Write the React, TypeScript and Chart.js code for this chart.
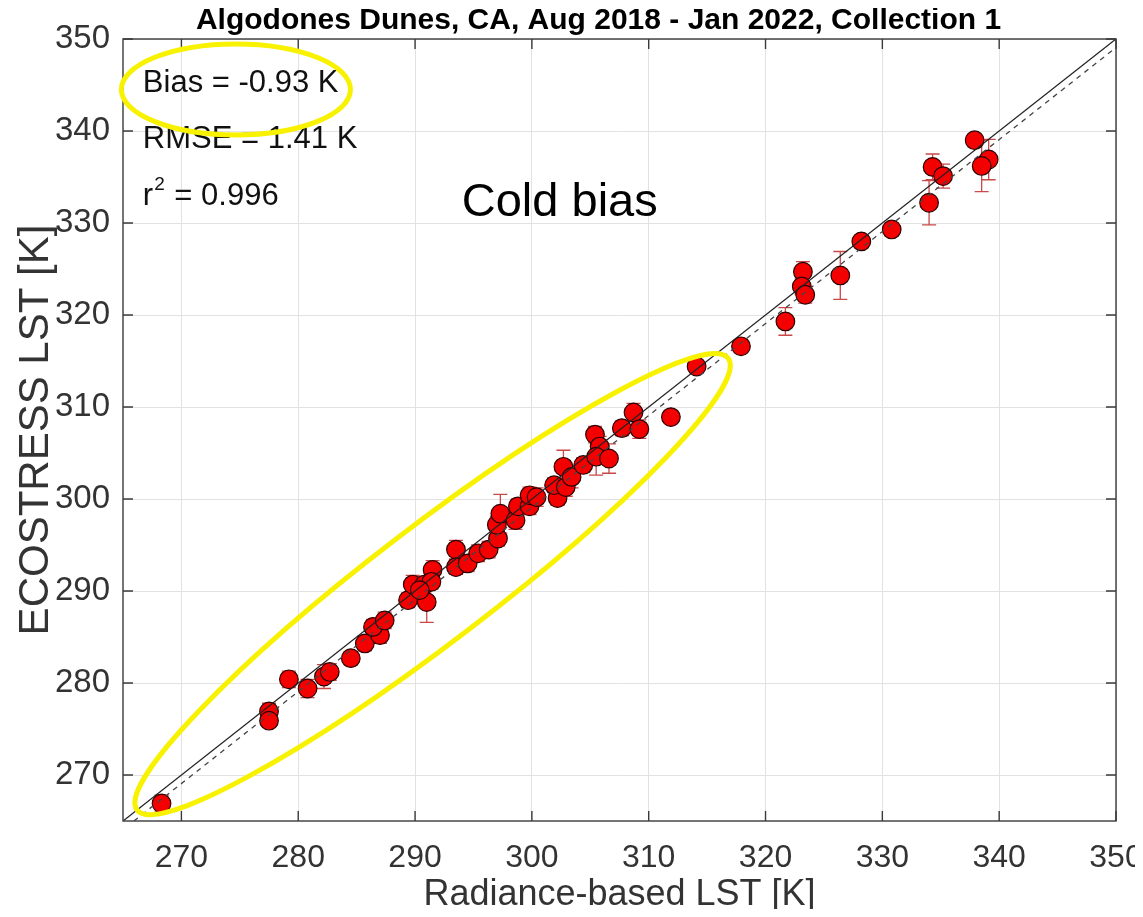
import React, { useEffect, useRef } from "react";
import { Chart, registerables } from "chart.js";

Chart.register(...registerables);

// Matchup data: radiance-based (in situ) LST vs ECOSTRESS LST, with ECOSTRESS uncertainty
const radianceLst = [
  268.3, 277.5, 277.5, 279.2, 280.8, 282.2, 282.7, 284.5, 285.7, 287.0,
  286.4, 287.4, 289.4, 289.8, 290.8, 291.0, 291.5, 291.4, 290.4, 293.5,
  293.5, 294.5, 295.4, 296.3, 297.1, 297.0, 297.3, 298.6, 298.8, 299.8,
  299.8, 300.4, 302.2, 301.9, 302.9, 302.7, 303.4, 304.4, 305.4, 305.8,
  305.5, 306.6, 307.7, 308.7, 309.2, 311.9, 314.1, 317.9, 321.7, 323.2,
  323.1, 323.4, 326.4, 328.2, 330.8, 334.0, 334.3, 335.2, 337.9, 339.1,
  338.5,
];
const ecostressLst = [
  266.9, 276.9, 275.9, 280.4, 279.4, 280.7, 281.2, 282.7, 284.3, 285.2,
  286.1, 286.8, 289.0, 290.7, 290.7, 288.8, 292.3, 291.0, 290.1, 294.5,
  292.6, 293.0, 294.1, 294.5, 295.7, 297.2, 298.4, 297.7, 299.2, 299.2,
  300.4, 300.2, 300.1, 301.5, 301.3, 303.5, 302.4, 303.7, 307.0, 305.7,
  304.6, 304.4, 307.7, 309.4, 307.6, 308.9, 314.4, 316.6, 319.3, 324.7,
  323.1, 322.2, 324.3, 328.0, 329.3, 332.2, 336.1, 335.1, 339.0, 336.9,
  336.2,
];
const ecostressErr = [
  0.9, 0.9, 0.6, 0.9, 1.0, 1.3, 0.9, 0.7, 0.8, 0.9,
  0.8, 0.9, 0.8, 1.0, 0.9, 2.2, 1.0, 0.8, 0.8, 1.0,
  0.8, 0.9, 0.9, 0.9, 0.8, 0.9, 2.1, 1.0, 0.8, 0.9,
  0.9, 1.0, 0.8, 0.8, 1.0, 1.8, 1.2, 0.8, 0.9, 1.1,
  2.0, 1.6, 0.8, 1.0, 1.0, 0.5, 0.4, 0.4, 1.5, 1.1,
  0.9, 0.9, 2.6, 0.6, 0.7, 2.4, 1.4, 1.3, 0.5, 2.2,
  2.8,
];

// Axis limits and tick spacing (both axes share them)
const axisMin = 265;
const axisMax = 350;
const tickStep = 10;

// Fitted line: y = fitSlope * x + fitIntercept
const fitSlope = 1.0;
const fitIntercept = -0.93;

// Text
const titleText = "Algodones Dunes, CA, Aug 2018 - Jan 2022, Collection 1";
const xTitle = "Radiance-based LST [K]";
const yTitle = "ECOSTRESS LST [K]";
const biasText = "Bias = -0.93 K";
const rmseText = "RMSE = 1.41 K";
const r2Value = " = 0.996";
const noteText = "Cold bias";

const sansFont = "'Liberation Sans', Arial, Helvetica, sans-serif";

const canvasWidth = 1135;
const canvasHeight = 901;

const errorBarPlugin = {
  id: "errorBars",
  beforeDatasetsDraw(chart: any) {
    const { ctx } = chart;
    const xs = chart.scales.x;
    const ys = chart.scales.y;
    ctx.save();
    ctx.strokeStyle = "#c94848";
    ctx.lineWidth = 1.3;
    const cap = 7;
    radianceLst.forEach((rx, i) => {
      const px = xs.getPixelForValue(rx);
      const top = ys.getPixelForValue(ecostressLst[i] + ecostressErr[i]);
      const bot = ys.getPixelForValue(ecostressLst[i] - ecostressErr[i]);
      ctx.beginPath();
      ctx.moveTo(px, top);
      ctx.lineTo(px, bot);
      ctx.moveTo(px - cap, top);
      ctx.lineTo(px + cap, top);
      ctx.moveTo(px - cap, bot);
      ctx.lineTo(px + cap, bot);
      ctx.stroke();
    });
    ctx.restore();
  },
};

// Box around the axes with inward tick marks on all four sides
const framePlugin = {
  id: "frame",
  afterDatasetsDraw(chart: any) {
    const { ctx, chartArea: a } = chart;
    const xs = chart.scales.x;
    const ys = chart.scales.y;
    const len = 10;
    ctx.save();
    ctx.strokeStyle = "#3a3a3a";
    ctx.lineWidth = 1.4;
    ctx.strokeRect(a.left, a.top, a.right - a.left, a.bottom - a.top);
    ctx.beginPath();
    xs.ticks.forEach((t: any) => {
      const px = xs.getPixelForValue(t.value);
      ctx.moveTo(px, a.bottom);
      ctx.lineTo(px, a.bottom - len);
      ctx.moveTo(px, a.top);
      ctx.lineTo(px, a.top + len);
    });
    ys.ticks.forEach((t: any) => {
      const py = ys.getPixelForValue(t.value);
      ctx.moveTo(a.left, py);
      ctx.lineTo(a.left + len, py);
      ctx.moveTo(a.right, py);
      ctx.lineTo(a.right - len, py);
    });
    ctx.stroke();
    ctx.restore();
  },
};

// Title, statistics, note and highlight ellipses
const annotationPlugin = {
  id: "notes",
  afterDraw(chart: any) {
    const { ctx, chartArea: a } = chart;
    const xs = chart.scales.x;
    const ys = chart.scales.y;
    const X = (v: number) => xs.getPixelForValue(v);
    const Y = (v: number) => ys.getPixelForValue(v);
    ctx.save();

    // title
    ctx.fillStyle = "#000";
    ctx.font = `bold 30px ${sansFont}`;
    ctx.textAlign = "center";
    ctx.textBaseline = "alphabetic";
    ctx.fillText(titleText, (a.left + a.right) / 2 - 21, a.top - 10);

    // statistics
    ctx.textAlign = "left";
    ctx.font = `31px ${sansFont}`;
    ctx.fillStyle = "#111";
    ctx.fillText(biasText, X(266.7), Y(344.2));
    ctx.fillText(rmseText, X(266.7), Y(338.2));
    const rx = X(266.7);
    const ry = Y(332.0);
    ctx.fillText("r", rx, ry);
    const rw = ctx.measureText("r").width;
    ctx.font = `19px ${sansFont}`;
    ctx.fillText("2", rx + rw + 1, ry - 15);
    const sw = ctx.measureText("2").width;
    ctx.font = `31px ${sansFont}`;
    ctx.fillText(r2Value, rx + rw + sw + 2, ry);

    // note
    ctx.font = `47px ${sansFont}`;
    ctx.fillStyle = "#000";
    ctx.fillText(noteText, X(294.0), Y(330.8));

    // highlight ellipses
    ctx.strokeStyle = "#f8f200";
    ctx.lineWidth = 5;
    // around the bias value: bounds given in data units
    const l = X(264.86), r = X(284.47), t = Y(349.46), b = Y(339.57);
    ctx.beginPath();
    ctx.ellipse((l + r) / 2, (t + b) / 2, (r - l) / 2, (b - t) / 2, 0, 0, Math.PI * 2);
    ctx.stroke();
    // along the 1:1 line: major-axis ends in data units, half-width in pixels
    const x1 = X(266.2), y1 = Y(266.2), x2 = X(316.8), y2 = Y(315.3);
    const cx = (x1 + x2) / 2, cy = (y1 + y2) / 2;
    const semiMajor = Math.hypot(x2 - x1, y2 - y1) / 2;
    const angle = Math.atan2(y2 - y1, x2 - x1);
    ctx.beginPath();
    ctx.ellipse(cx, cy, semiMajor, 58, angle, 0, Math.PI * 2);
    ctx.stroke();

    ctx.restore();
  },
};

export default function App() {
  const canvasRef = useRef<HTMLCanvasElement | null>(null);

  useEffect(() => {
    if (!canvasRef.current) return;
    const points = radianceLst.map((x, i) => ({ x, y: ecostressLst[i] }));
    const oneToOne = [
      { x: axisMin, y: axisMin },
      { x: axisMax, y: axisMax },
    ];
    const fitLine = [
      { x: (axisMin - fitIntercept) / fitSlope, y: axisMin },
      { x: axisMax, y: fitSlope * axisMax + fitIntercept },
    ];

    const chart = new Chart(canvasRef.current, {
      type: "scatter",
      data: {
        datasets: [
          {
            label: "matchups",
            data: points,
            pointRadius: 9.3,
            pointBackgroundColor: "#f50000",
            pointBorderColor: "#2a0000",
            pointBorderWidth: 1.2,
            order: 2,
          },
          {
            label: "1:1",
            data: oneToOne,
            showLine: true,
            borderColor: "#222",
            borderWidth: 1.3,
            pointRadius: 0,
            order: 1,
          },
          {
            label: "fit",
            data: fitLine,
            showLine: true,
            borderColor: "#444",
            borderWidth: 1.3,
            borderDash: [5, 5],
            pointRadius: 0,
            order: 0,
          },
        ],
      },
      options: {
        animation: false,
        responsive: false,
        devicePixelRatio: 1,
        layout: { padding: { top: 31, right: 27, bottom: 0, left: 0 } },
        plugins: {
          legend: { display: false },
          tooltip: { enabled: false },
          title: { display: false },
        },
        scales: {
          x: {
            type: "linear",
            min: axisMin,
            max: axisMax,
            ticks: {
              stepSize: tickStep,
              includeBounds: false,
              color: "#333",
              padding: 18,
              font: { family: sansFont, size: 32 },
              maxRotation: 0,
            },
            grid: { color: "#e2e2e2", lineWidth: 1, drawTicks: false, tickLength: 0 },
            border: { display: false },
            title: {
              display: true,
              text: xTitle,
              color: "#333",
              font: { family: sansFont, size: 36, lineHeight: 1 },
              padding: { top: 0, bottom: -4 },
            },
            afterFit(scale: any) {
              scale.height = 88;
              scale.paddingLeft = 0;
              scale.paddingRight = 0;
            },
          },
          y: {
            type: "linear",
            min: axisMin,
            max: axisMax,
            ticks: {
              stepSize: tickStep,
              includeBounds: false,
              color: "#333",
              padding: 13,
              font: { family: sansFont, size: 33 },
            },
            grid: { color: "#e2e2e2", lineWidth: 1, drawTicks: false, tickLength: 0 },
            border: { display: false },
            title: {
              display: true,
              text: yTitle,
              color: "#333",
              font: { family: sansFont, size: 42, lineHeight: 1 },
              padding: { top: 7, bottom: 0 },
            },
            afterFit(scale: any) {
              scale.width = 115;
              scale.paddingTop = 0;
              scale.paddingBottom = 0;
            },
          },
        },
      },
      plugins: [errorBarPlugin, framePlugin, annotationPlugin],
    });

    return () => chart.destroy();
  }, []);

  return (
    <div style={{ width: canvasWidth, height: canvasHeight }}>
      <canvas
        ref={canvasRef}
        width={canvasWidth}
        height={canvasHeight}
        style={{ display: "block", width: canvasWidth, height: canvasHeight }}
      />
    </div>
  );
}
